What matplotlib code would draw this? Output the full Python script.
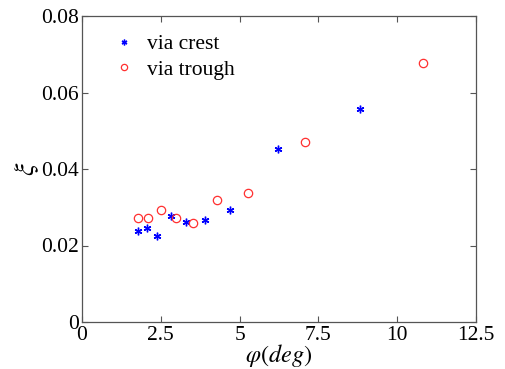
import matplotlib
matplotlib.use("Agg")
import matplotlib.pyplot as plt

plt.rcParams['font.family'] = ['Liberation Serif', 'DejaVu Serif']
plt.rcParams['mathtext.fontset'] = 'stix'

crest_x = [1.77, 2.06, 2.37, 2.81, 3.30, 3.90, 4.70, 6.23, 8.82]
crest_y = [0.0239, 0.0246, 0.0226, 0.0276, 0.0262, 0.0266, 0.0294, 0.0451, 0.0556]
trough_x = [1.77, 2.09, 2.52, 2.98, 3.51, 4.29, 5.28, 7.07, 10.81]
trough_y = [0.0271, 0.0271, 0.0292, 0.0271, 0.0260, 0.0318, 0.0336, 0.0471, 0.0676]
xticks = [0, 2.5, 5, 7.5, 10, 12.5]
xticklabels = ['0', '2.5', '5', '7.5', '10', '12.5']
yticks = [0, 0.02, 0.04, 0.06, 0.08]
yticklabels = ['0', '0.02', '0.04', '0.06', '0.08']

fig = plt.figure(figsize=(5.06, 3.69), dpi=100)
ax = fig.add_axes([82/506, 1-322/369, (476-82)/506, (322-16)/369])

ax.plot(crest_x, crest_y, linestyle='none', marker=(6, 2, 0), markersize=5.5,
        markeredgewidth=1.0, color='#0000ff', label='via crest')
ax.plot(trough_x, trough_y, linestyle='none', marker='o', markersize=6,
        markerfacecolor='none', markeredgewidth=0.9, markeredgecolor='#ff3030',
        label='via trough')

ax.set_xlim(0, 12.5)
ax.set_ylim(0, 0.08)
ax.set_xticks(xticks)
ax.set_xticklabels(xticklabels)
ax.set_yticks(yticks)
ax.set_yticklabels(yticklabels)
ax.tick_params(direction='in', top=True, right=True, length=4, width=0.8,
               color='#555555', labelsize=15.5)
ax.tick_params(axis='x', pad=3)
ax.tick_params(axis='y', pad=2)
for s in ax.spines.values():
    s.set_color('#555555')
    s.set_linewidth(0.9)

ax.set_xlabel(r'$\varphi(deg)$', fontsize=17.5, labelpad=-2.5)
ax.set_ylabel(r'$\xi$', fontsize=20, labelpad=0)

leg = ax.legend(loc='upper left', frameon=False, fontsize=15.5, markerscale=0.75,
                handlelength=1.0, handletextpad=0.6, borderaxespad=0.3,
                labelspacing=0.25, bbox_to_anchor=(0.04, 0.99))

fig.savefig('out.png', dpi=100)
